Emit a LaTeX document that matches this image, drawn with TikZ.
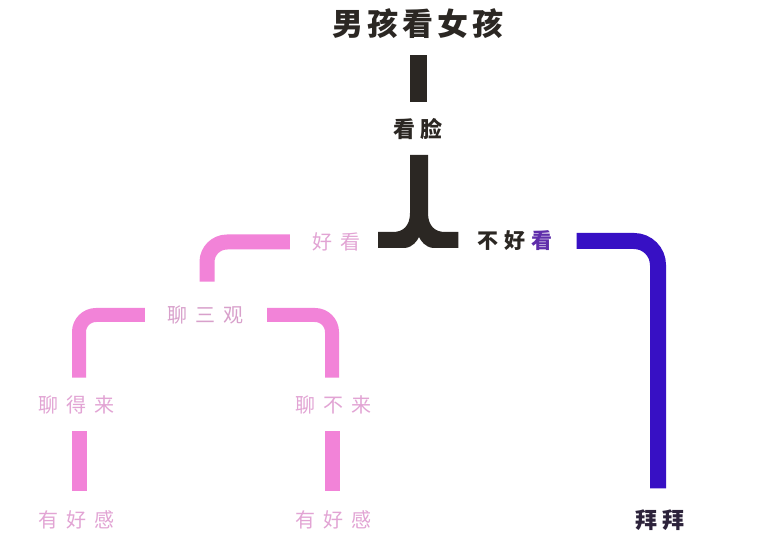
\documentclass[tikz,border=0pt]{standalone}
\usepackage{fontspec}
\newfontfamily\cjk{Noto Sans CJK SC}
\usetikzlibrary{calc}
\definecolor{inkc}{RGB}{43,39,35}
\definecolor{pinkbar}{RGB}{242,131,216}
\definecolor{pinktxt}{RGB}{226,164,212}
\definecolor{purplebar}{RGB}{55,16,196}
\definecolor{purpletxt}{RGB}{95,45,170}
\tikzset{
  lbl/.style={inner sep=0pt, anchor=center},
  pinkline/.style={draw=pinkbar, line width=#1, line cap=butt, line join=round},
  purpleline/.style={draw=purplebar, line width=16pt, line cap=butt, rounded corners=24pt},
}
\begin{document}
\begin{tikzpicture}[x=1pt,y=-1pt]
\useasboundingbox[fill=white] (0,0) rectangle (761,548);
% text nodes
\node[lbl, text=inkc, font=\cjk\bfseries\fontsize{31}{31}\selectfont] (title) at (418,24) {男\kern4pt 孩\kern4pt 看\kern4pt 女\kern4pt 孩};
\node[lbl, text=inkc, font=\cjk\bfseries\fontsize{22}{22}\selectfont] (kanlian) at (418,129) {看\kern5pt 脸};
\node[lbl, text=pinktxt, font=\cjk\fontsize{20}{20}\selectfont] (haokan) at (336,242) {好\kern8pt 看};
\node[lbl, font=\cjk\bfseries\fontsize{21}{21}\selectfont] (buhaokan) at (515,241) {\textcolor{inkc}{不\kern6pt 好}\kern6pt \textcolor{purpletxt}{看}};
\node[lbl, text=pinktxt!90!gray, font=\cjk\fontsize{20}{20}\selectfont] (liaosanguan) at (205,315) {聊\kern8pt 三\kern8pt 观};
\node[lbl, text=pinktxt, font=\cjk\fontsize{20}{20}\selectfont] (liaodelai) at (76,405) {聊\kern8pt 得\kern8pt 来};
\node[lbl, text=pinktxt, font=\cjk\fontsize{20}{20}\selectfont] (liaobulai) at (333,405) {聊\kern8pt 不\kern8pt 来};
\node[lbl, text=pinktxt, font=\cjk\fontsize{20}{20}\selectfont] (yhg1) at (76,520) {有\kern8pt 好\kern8pt 感};
\node[lbl, text=pinktxt, font=\cjk\fontsize{20}{20}\selectfont] (yhg2) at (333,520) {有\kern8pt 好\kern8pt 感};
\node[lbl, text=inkc!85!purplebar, font=\cjk\bfseries\fontsize{22}{22}\selectfont] (baibai) at (660,520) {拜\kern5pt 拜};
% connectors
\draw[draw=inkc, line width=17pt] ([yshift=-16pt]title.south) -- ([yshift=16pt]kanlian.north);
\coordinate (fork) at (419,240);
\fill[inkc] ($(kanlian.south)+(-8,15)$) -- ($(fork)+(-9,-27)$)
  .. controls ($(fork)+(-9,-14)$) and ($(fork)+(-16,-8)$) .. ($(fork)+(-26,-8)$)
  -- ($(haokan.east|-fork)+(18,-8)$) -- ($(haokan.east|-fork)+(18,8)$)
  -- ($(fork)+(-14,8)$)
  .. controls ($(fork)+(-6,7)$) and ($(fork)+(-2,1)$) .. ($(fork)+(0,-3)$)
  .. controls ($(fork)+(2,1)$) and ($(fork)+(6,7)$) .. ($(fork)+(14,8)$)
  -- ($(buhaokan.west|-fork)+(-19,8)$) -- ($(buhaokan.west|-fork)+(-19,-8)$)
  -- ($(fork)+(26,-8)$)
  .. controls ($(fork)+(16,-8)$) and ($(fork)+(9,-14)$) .. ($(fork)+(9,-27)$)
  -- ($(kanlian.south)+(10,15)$) -- cycle;
\draw[pinkline=15pt, rounded corners=20pt] ($(haokan.west)+(-22,0)$) -| ($(liaosanguan.north)+(2,-24)$);
\draw[pinkline=14pt, rounded corners=17pt] ($(liaosanguan.west)+(-22,0)$) -| ($(liaodelai.north)+(3,-18)$);
\draw[pinkline=14pt, rounded corners=17pt] ($(liaosanguan.east)+(24,0)$) -| ($(liaobulai.north)+(-1,-18)$);
\draw[pinkline=15pt] ($(liaodelai.south)+(3,17)$) -- ($(yhg1.north)+(3,-20)$);
\draw[pinkline=15pt] ($(liaobulai.south)+(-1,17)$) -- ($(yhg2.north)+(-1,-20)$);
\draw[purpleline] ($(buhaokan.east)+(24,0)$) -| ($(baibai.north)+(-2,-21)$);
\end{tikzpicture}
\end{document}
